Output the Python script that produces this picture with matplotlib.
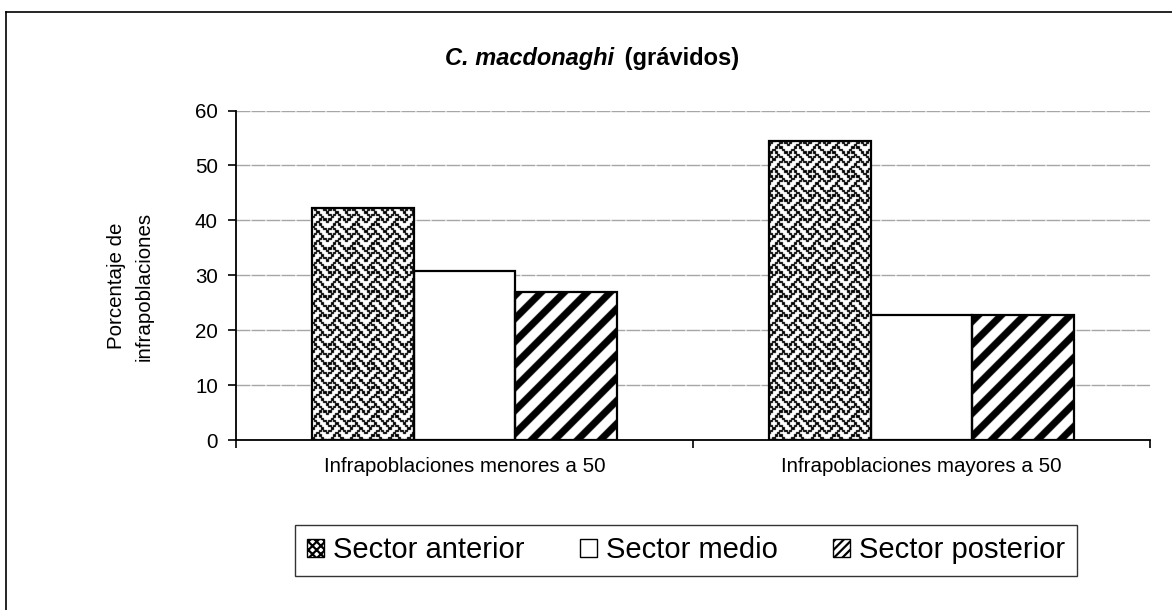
import numpy as np
import matplotlib
matplotlib.use('Agg')
import matplotlib.pyplot as plt
from matplotlib.lines import Line2D
from matplotlib.patches import Rectangle

plt.rcParams['font.family'] = ['Liberation Sans', 'DejaVu Sans']
plt.rcParams['hatch.linewidth'] = 1.6

categories = ['Infrapoblaciones menores a 50', 'Infrapoblaciones mayores a 50']
sectors = ['Sector anterior', 'Sector medio', 'Sector posterior']
anterior = [42.3, 54.5]
medio = [30.8, 22.7]
posterior = [26.9, 22.7]
yticks = [0, 10, 20, 30, 40, 50, 60]

W, H, DPI = 1172, 610, 100
fig = plt.figure(figsize=(W / DPI, H / DPI), dpi=DPI)
ax = fig.add_axes([236 / W, 1 - 440 / H, (1150 - 236) / W, (440 - 110.5) / H])

# 8x8 "weave" fill pattern, one byte per row
WEAVE = [0x88, 0x54, 0x22, 0x45, 0x88, 0x14, 0x22, 0x51]
weave_tile = np.array([[(b >> (7 - k)) & 1 for k in range(8)] for b in WEAVE])


def weave(rows, cols, scale=2.4):
    r = (rows / scale).astype(int) % 8
    c = (cols / scale).astype(int) % 8
    c2 = ((cols + 1) / scale).astype(int) % 8
    dark = np.maximum(weave_tile[r, c], weave_tile[r, c2])
    return 1.0 - dark


def stripes(rows, cols, period=23, dark=0.42):
    return np.where(((cols + rows) % period) < period * dark, 0.0, 1.0)


def soften(img):
    p = np.pad(img, 1, mode='edge')
    nb = (p[:-2, 1:-1] + p[2:, 1:-1] + p[1:-1, :-2] + p[1:-1, 2:]) / 4
    return 0.6 * img + 0.4 * nb


x = np.arange(len(categories))
bw = 0.222
series = [anterior, medio, posterior]
offsets = [-bw, 0, bw]

bars = []
for vals, off in zip(series, offsets):
    bars.append(ax.bar(x + off, vals, bw, facecolor='white', edgecolor='none', zorder=2))
    ax.bar(x + off, vals, bw, fill=False, edgecolor='black', linewidth=1.6, zorder=3)

xlim = (-0.5, 1.5)
ylim = (0, 60)
ax.set_xlim(*xlim)
ax.set_ylim(*ylim)

# pixel-registered textures for the patterned bars
fig.canvas.draw()
bb = ax.get_window_extent()
nx, ny = int(round(bb.width)), int(round(bb.height))
rows, cols = np.indices((ny, nx))
rows = rows + (H - bb.y1)
cols = cols + bb.x0
textures = {0: soften(weave(rows, cols)), 2: soften(stripes(rows, cols))}
for idx, img in textures.items():
    for rect in bars[idx]:
        im = ax.imshow(img, cmap='gray', vmin=0, vmax=1, origin='upper',
                       extent=(xlim[0], xlim[1], ylim[0], ylim[1]),
                       aspect='auto', interpolation='nearest', zorder=2.2)
        im.set_clip_path(rect)
ax.set_xlim(*xlim)
ax.set_ylim(*ylim)

# axes styling
ax.set_axisbelow(True)
ax.yaxis.grid(True, color='#a6a6a6', linewidth=1.0, linestyle=(0, (10, 0.8)))
for s in ['top', 'right']:
    ax.spines[s].set_visible(False)
for s in ['left', 'bottom']:
    ax.spines[s].set_linewidth(1.3)
    ax.spines[s].set_zorder(4)
ax.set_yticks(yticks)
ax.tick_params(axis='y', direction='out', length=6, width=1.2, pad=7, labelsize=14.75)
ax.set_xticks([-0.5, 0.5, 1.5])
ax.set_xticklabels([])
ax.tick_params(axis='x', which='major', direction='out', length=6, width=1.2)
ax.set_xticks(x, minor=True)
ax.set_xticklabels(categories, minor=True)
ax.tick_params(axis='x', which='minor', length=0, pad=12, labelsize=14.75)

# axis title in two lines
fig.text(117 / W, 1 - 286 / H, 'Porcentaje de', rotation=90, ha='center', va='center', fontsize=14.75)
fig.text(144 / W, 1 - 286 / H, 'infrapoblaciones', rotation=90, ha='center', va='center', fontsize=14.75)

# chart title: italic species name followed by plain bold text
renderer = fig.canvas.get_renderer()
t1 = fig.text(0, 1 - 59 / H, 'C. macdonaghi', fontsize=17, fontweight='bold',
              fontstyle='italic', ha='left', va='center')
t2 = fig.text(0, 1 - 59 / H, ' (grávidos)', fontsize=17, fontweight='bold',
              ha='left', va='center')
w1 = t1.get_window_extent(renderer).width
w2 = t2.get_window_extent(renderer).width
x0 = 592 - (w1 + w2 + 4) / 2
t1.set_x(x0 / W)
t2.set_x((x0 + w1 + 4) / W)

# legend, stretched over a fixed box below the plot
handles = [
    Rectangle((0, 0), 1, 1, facecolor='white', edgecolor='black', hatch='xxxx', linewidth=1),
    Rectangle((0, 0), 1, 1, facecolor='white', edgecolor='black', linewidth=1),
    Rectangle((0, 0), 1, 1, facecolor='white', edgecolor='black', hatch='////', linewidth=1),
]
leg = fig.legend(handles, sectors, loc='center', mode='expand',
                 bbox_to_anchor=(295 / W, 1 - 576 / H, 782 / W, 51 / H),
                 ncol=3, fontsize=21, frameon=True, fancybox=False, shadow=False,
                 handlelength=0.6, handleheight=0.6, handletextpad=0.3,
                 columnspacing=1.45, borderpad=0.4, borderaxespad=0)
leg.get_frame().set_edgecolor('black')
leg.get_frame().set_linewidth(1.0)

# chart area border (left and top edges)
fig.add_artist(Line2D([6, 6], [0, H - 12], transform=None, color='black', linewidth=1.2))
fig.add_artist(Line2D([6, W], [H - 12, H - 12], transform=None, color='black', linewidth=1.2))

fig.savefig('out.png', dpi=DPI)
